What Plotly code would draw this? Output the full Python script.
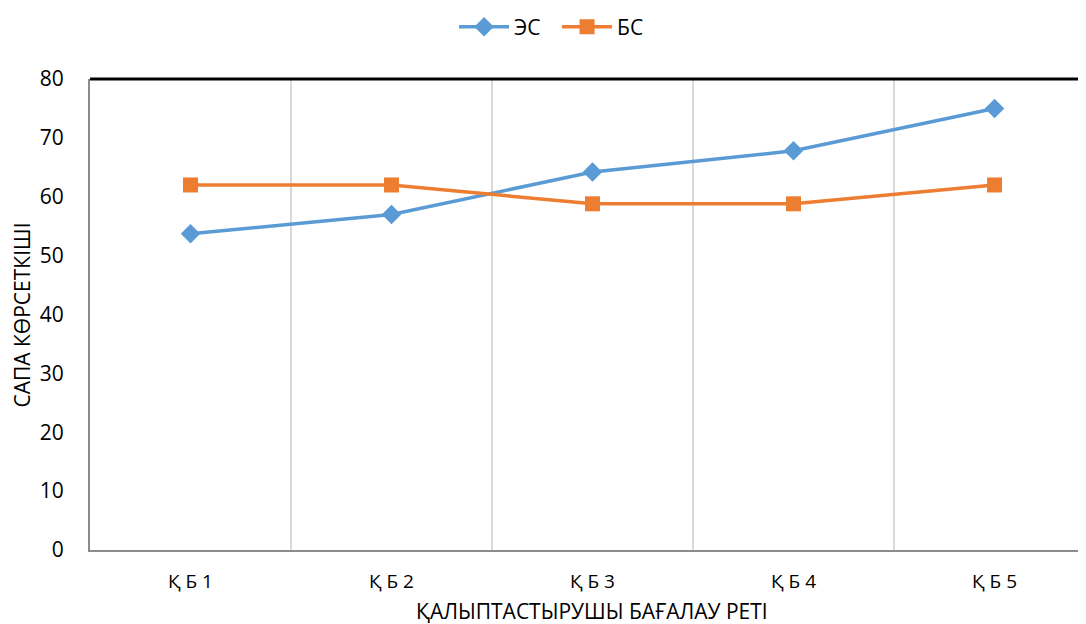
import plotly.graph_objects as go

categories = ["Қ Б 1", "Қ Б 2", "Қ Б 3", "Қ Б 4", "Қ Б 5"]
es_values = [53.7, 57.0, 64.2, 67.8, 75.0]
bs_values = [62.0, 62.0, 58.8, 58.8, 62.0]
y_ticks = [0, 10, 20, 30, 40, 50, 60, 70, 80]

FONT = "Open Sans"

fig = go.Figure()
fig.add_trace(go.Scatter(
    x=categories, y=es_values, name="ЭС", mode="lines+markers",
    line=dict(color="#5B9BD5", width=3.5),
    marker=dict(symbol="diamond", size=15, color="#5B9BD5"),
))
fig.add_trace(go.Scatter(
    x=categories, y=bs_values, name="БС", mode="lines+markers",
    line=dict(color="#ED7D31", width=3.5),
    marker=dict(symbol="square", size=15, color="#ED7D31"),
))

fig.add_shape(type="line", xref="paper", yref="paper", x0=0, x1=1, y0=1, y1=1,
              line=dict(color="black", width=3), layer="above")

fig.add_annotation(text="САПА КӨРСЕТКІШІ", xref="paper", yref="paper", x=-0.0683, y=0.5,
                   xanchor="center", yanchor="middle", textangle=-90, showarrow=False,
                   font=dict(size=21, family=FONT, color="black"))
fig.add_annotation(text="ҚАЛЫПТАСТЫРУШЫ БАҒАЛАУ РЕТІ", xref="paper", yref="paper", x=0.504, y=-0.1295,
                   xanchor="center", yanchor="middle", showarrow=False,
                   font=dict(size=21, family=FONT, color="black"))

fig.update_layout(
    width=1078, height=616,
    margin=dict(l=82, r=0, t=71, b=74, autoexpand=False),
    paper_bgcolor="white", plot_bgcolor="white",
    font=dict(family=FONT, color="#000000"),
    showlegend=True,
    legend=dict(orientation="h", x=0.3655, xanchor="left", y=0.969, yref="container",
                yanchor="middle", font=dict(size=21, family=FONT), itemwidth=50,
                entrywidth=38, entrywidthmode="pixels"),
    xaxis=dict(
        type="category", range=[-0.5, 4.455], tickson="boundaries",
        showgrid=True, gridcolor="#D9D9D9", gridwidth=2,
        showline=True, linecolor="#8C8C8C", linewidth=2,
        ticks="", tickfont=dict(size=19, family=FONT),
        ticklabelstandoff=13, automargin=False,
        zeroline=False,
    ),
    yaxis=dict(
        range=[0, 80], tickvals=y_ticks, showgrid=False,
        showline=True, linecolor="#8C8C8C", linewidth=2,
        ticks="", tickfont=dict(size=21, family=FONT),
        ticklabelstandoff=20, automargin=False,
        zeroline=False,
    ),
)

fig.write_html("out.html")
